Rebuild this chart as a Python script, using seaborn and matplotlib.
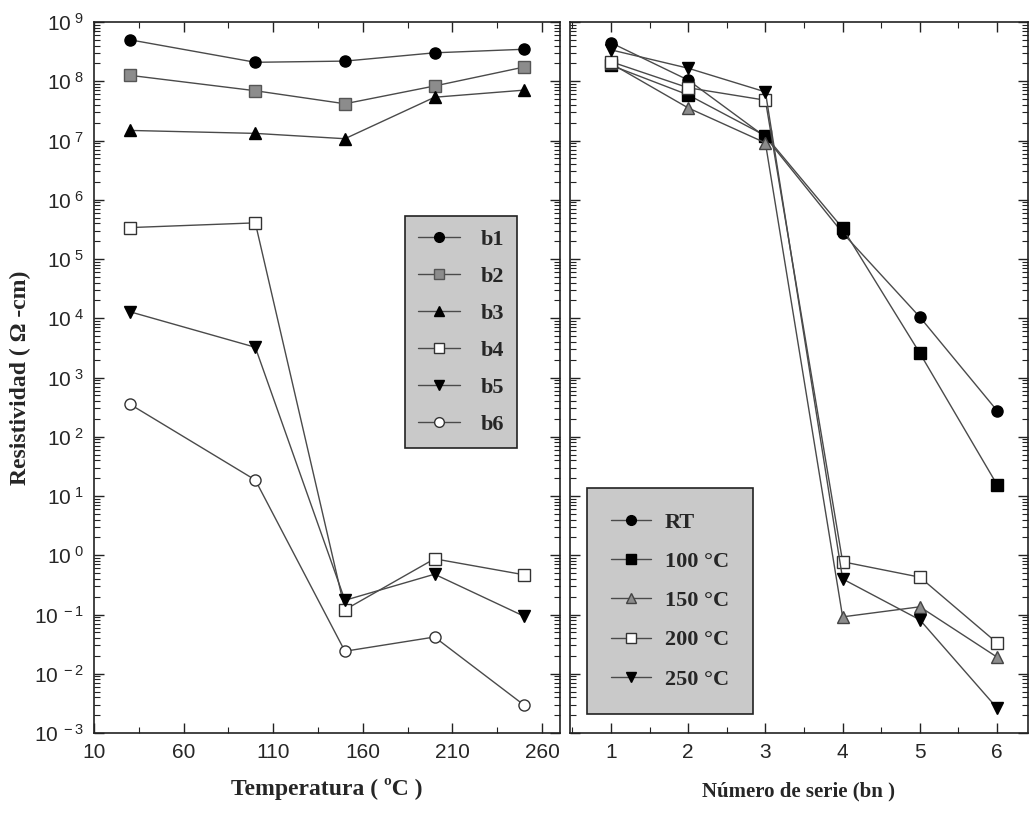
import numpy as np
import pandas as pd
import matplotlib
matplotlib.use("Agg")
import matplotlib.pyplot as plt
from matplotlib.ticker import LogLocator, FixedLocator, FuncFormatter, NullFormatter
import seaborn as sns

# ---------------- data ----------------
temperaturas = [30, 100, 150, 200, 250]
b1 = [10**8.70, 10**8.32, 10**8.34, 10**8.48, 10**8.54]
b2 = [10**8.10, 10**7.84, 10**7.62, 10**7.92, 10**8.24]
b3 = [10**7.17, 10**7.12, 10**7.03, 10**7.73, 10**7.85]
b4 = [10**5.53, 10**5.61, 10**-0.92, 10**-0.06, 10**-0.33]
b5 = [10**4.11, 10**3.51, 10**-0.76, 10**-0.32, 10**-1.03]
b6 = [10**2.55, 10**1.27, 10**-1.62, 10**-1.38, 10**-2.53]
series_b = ["b1", "b2", "b3", "b4", "b5", "b6"]

num_serie = [1, 2, 3, 4, 5, 6]
rt = [10**8.65, 10**8.02, 10**7.06, 10**5.44, 10**4.02, 10**2.44]
t100 = [10**8.27, 10**7.77, 10**7.08, 10**5.52, 10**3.41, 10**1.19]
t150 = [10**8.30, 10**7.55, 10**6.96, 10**-1.04, 10**-0.87, 10**-1.72]
t200 = [10**8.33, 10**7.89, 10**7.68, 10**-0.11, 10**-0.37, 10**-1.48]
t250 = [10**8.53, 10**8.22, 10**7.82, 10**-0.40, 10**-1.09, 10**-2.58]
series_t = ["RT", "100 \u00b0C", "150 \u00b0C", "200 \u00b0C", "250 \u00b0C"]

xticks_left = [10, 60, 110, 160, 210, 260]
xticks_right = [1, 2, 3, 4, 5, 6]
ylabel = "Resistividad ( \u03a9 -cm)"
xlabel_left = "Temperatura ( \u00baC )"
xlabel_right = "N\u00famero de serie (bn )"

# ---------------- style ----------------
sns.set_style("ticks")
plt.rcParams["font.family"] = ["Liberation Sans", "DejaVu Sans"]
plt.rcParams["mathtext.fontset"] = "custom"
plt.rcParams["mathtext.rm"] = "Liberation Sans"
plt.rcParams["mathtext.it"] = "Liberation Sans"

W, H = 1030, 818
fig = plt.figure(figsize=(W / 100, H / 100), dpi=100)
fig.patch.set_facecolor("white")
bot = 1 - 733 / H
hgt = (733 - 22) / H
axL = fig.add_axes([94 / W, bot, (560 - 94) / W, hgt])
axR = fig.add_axes([570 / W, bot, (1028 - 570) / W, hgt], sharey=axL)

line_col = "#4a4a4a"
styles_b = {
    "b1": dict(marker="o", mfc="black", mec="black"),
    "b2": dict(marker="s", mfc="#8c8c8c", mec="#555555"),
    "b3": dict(marker="^", mfc="black", mec="black"),
    "b4": dict(marker="s", mfc="white", mec="#333333"),
    "b5": dict(marker="v", mfc="black", mec="black"),
    "b6": dict(marker="o", mfc="white", mec="#333333"),
}
styles_t = {
    "RT": dict(marker="o", mfc="black", mec="black"),
    "100 \u00b0C": dict(marker="s", mfc="black", mec="black"),
    "150 \u00b0C": dict(marker="^", mfc="#8c8c8c", mec="#444444"),
    "200 \u00b0C": dict(marker="s", mfc="white", mec="#333333"),
    "250 \u00b0C": dict(marker="v", mfc="black", mec="black"),
}

dfL = pd.DataFrame({"T": temperaturas * 6,
                    "R": b1 + b2 + b3 + b4 + b5 + b6,
                    "serie": sum([[s] * 5 for s in series_b], [])})
dfR = pd.DataFrame({"n": num_serie * 5,
                    "R": rt + t100 + t150 + t200 + t250,
                    "temp": sum([[s] * 6 for s in series_t], [])})

for s in series_b:
    st = styles_b[s]
    sub = dfL[dfL["serie"] == s]
    sns.lineplot(data=sub, x="T", y="R", ax=axL, color=line_col, lw=1.0,
                 marker=st["marker"], markerfacecolor=st["mfc"],
                 markeredgecolor=st["mec"], markersize=8, markeredgewidth=1.0,
                 label=s, sort=False, estimator=None)
for s in series_t:
    st = styles_t[s]
    sub = dfR[dfR["temp"] == s]
    sns.lineplot(data=sub, x="n", y="R", ax=axR, color=line_col, lw=1.0,
                 marker=st["marker"], markerfacecolor=st["mfc"],
                 markeredgecolor=st["mec"], markersize=8, markeredgewidth=1.0,
                 label=s, sort=False, estimator=None)

axL.set_yscale("log")
axL.set_ylim(1e-3, 1e9)
axL.set_xlim(10, 270)
axR.set_xlim(0.47, 6.4)

axL.yaxis.set_major_locator(FixedLocator([10.0 ** k for k in range(-3, 10)]))
axL.yaxis.set_minor_locator(LogLocator(base=10, subs=np.arange(2, 10) * 1.0, numticks=100))
axL.yaxis.set_minor_formatter(NullFormatter())
axL.yaxis.set_major_formatter(FuncFormatter(lambda v, p: r"$\mathregular{10^{\ %d}}$" % int(round(np.log10(v)))))

axL.xaxis.set_major_locator(FixedLocator(xticks_left))
axL.xaxis.set_minor_locator(FixedLocator([35, 85, 135, 185, 235]))
axR.xaxis.set_major_locator(FixedLocator(xticks_right))
axR.xaxis.set_minor_locator(FixedLocator([0.5, 1.5, 2.5, 3.5, 4.5, 5.5]))

for ax in (axL, axR):
    ax.tick_params(which="both", direction="in", top=True, right=True,
                   left=True, bottom=True, color="#222222")
    ax.tick_params(which="major", length=7, width=1.0, labelsize=15, pad=7)
    ax.tick_params(which="minor", length=4, width=0.8)
    for sp in ax.spines.values():
        sp.set_linewidth(1.2)
        sp.set_color("#222222")
    ax.set_ylabel("")
    ax.set_xlabel("")
axR.tick_params(axis="y", which="both", labelleft=False)

serif = ["Liberation Serif", "DejaVu Serif"]
axL.set_xlabel(xlabel_left, fontsize=17, fontweight="bold", family=serif, labelpad=12)
axR.set_xlabel(xlabel_right, fontsize=15, fontweight="bold", family=serif, labelpad=14)
axL.set_ylabel(ylabel, fontsize=17, fontweight="bold", family=serif, labelpad=2)

legL = axL.legend(loc="upper left", bbox_to_anchor=(0.667, 0.727), frameon=True,
                  fancybox=False, facecolor="#c9c9c9", edgecolor="#222222",
                  framealpha=1, handlelength=1.9, labelspacing=0.74,
                  borderpad=0.6, handletextpad=0.9, borderaxespad=0,
                  prop=dict(family=serif, weight="bold", size=16))
legL.get_frame().set_linewidth(1.2)
legR = axR.legend(loc="upper left", bbox_to_anchor=(0.037, 0.345), frameon=True,
                  fancybox=False, facecolor="#c9c9c9", edgecolor="#222222",
                  framealpha=1, handlelength=1.8, labelspacing=0.84,
                  borderpad=1.1, handletextpad=0.6, borderaxespad=0,
                  prop=dict(family=serif, weight="bold", size=16))
legR.get_frame().set_linewidth(1.2)
for leg in (legL, legR):
    for h in leg.legend_handles:
        h.set_markersize(7)

fig.savefig("out.png", dpi=100, facecolor="white")
